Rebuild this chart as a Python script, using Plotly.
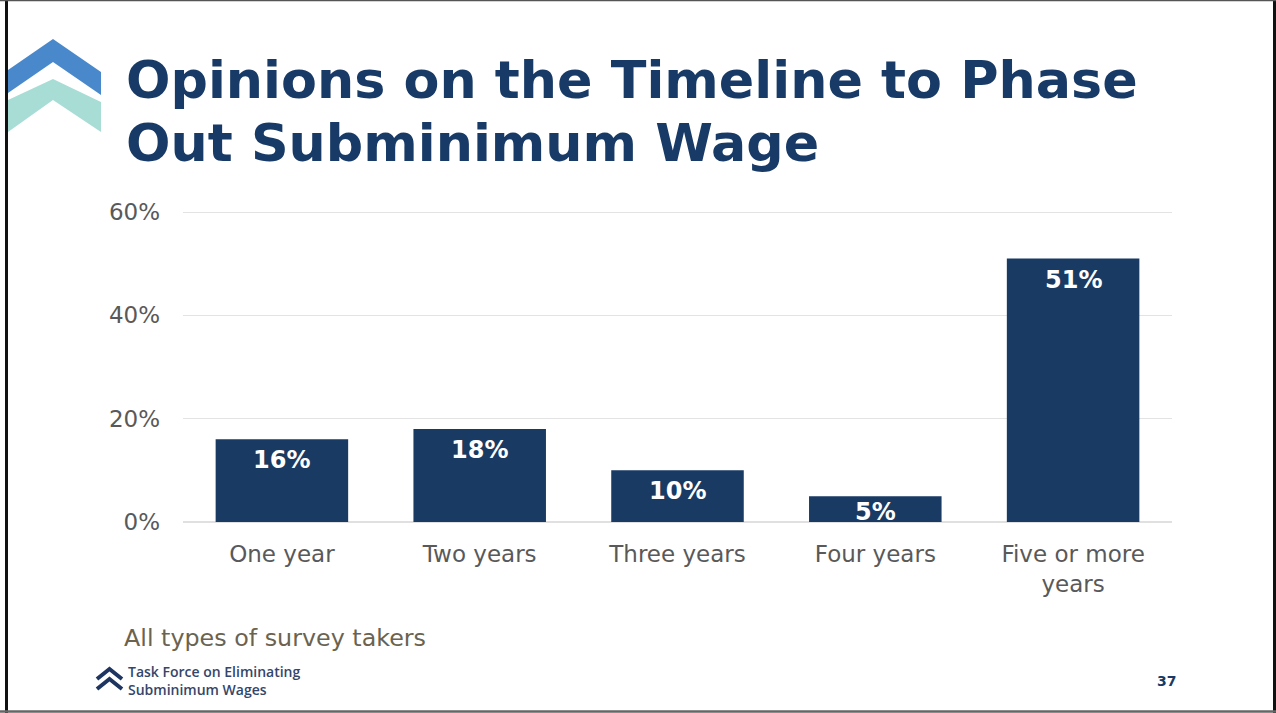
import plotly.graph_objects as go

# Survey results: preferred timeline for phasing out subminimum wage
categories = ["One year", "Two years", "Three years", "Four years", "Five or more<br>years"]
shares = [16, 18, 10, 5, 51]
y_ticks = [0, 20, 40, 60]
y_tick_labels = ["0%", "20%", "40%", "60%"]
title_lines = ["Opinions on the Timeline to Phase", "Out Subminimum Wage"]

W, H = 1276, 713
L, R, T, B = 183, 1172, 200, 522  # plot area in pixels
Y_MAX = 60 * (B - T) / (B - 212)   # 60% grid line sits at y=212

NAVY = "#183a66"
BAR = "#183a63"


def px(x):
    return (x - L) / (R - L)


def py(y):
    return (B - y) / (B - T)


def path(points, close=True):
    s = "M " + " L ".join(f"{px(x):.5f} {py(y):.5f}" for x, y in points)
    return s + (" Z" if close else "")


fig = go.Figure(
    go.Bar(
        x=categories,
        y=shares,
        marker=dict(color=BAR, line=dict(width=0)),
        hoverinfo="skip",
    )
)

annotations = []
# value labels inside the bars, near the top
px_per_unit = (B - T) / Y_MAX
for c, v in zip(categories, shares):
    bar_h = v * px_per_unit
    annotations.append(dict(
        x=c, y=v, xref="x", yref="y", text=f"{v}%", showarrow=False,
        yshift=-min(21, bar_h - 10),
        font=dict(family="DejaVu Sans", size=24, color="white", weight="bold"),
        xanchor="center", yanchor="middle",
    ))

# slide title, one annotation per line for tighter leading
for line, ypix in zip(title_lines, [79, 143]):
    annotations.append(dict(
        x=px(124), y=py(ypix), xref="paper", yref="paper", xanchor="left", yanchor="middle",
        text=line, showarrow=False,
        font=dict(family="DejaVu Sans", size=52.3, color=NAVY, weight="bold"),
    ))

# footnote
annotations.append(dict(
    x=px(122), y=py(638), xref="paper", yref="paper", xanchor="left", yanchor="middle",
    text="All types of survey takers", showarrow=False,
    font=dict(family="DejaVu Sans", size=23.8, color="#6b6350"),
))

# footer branding
annotations.append(dict(
    x=px(126), y=py(680), xref="paper", yref="paper", xanchor="left", yanchor="middle",
    text="Task Force on Eliminating<br>Subminimum Wages", align="left", showarrow=False,
    font=dict(family="Open Sans", size=14, color="#34466a", weight=600),
))

# page number
annotations.append(dict(
    x=px(1166), y=py(681), xref="paper", yref="paper", xanchor="center", yanchor="middle",
    text="37", showarrow=False,
    font=dict(family="DejaVu Sans", size=14, color=NAVY, weight="bold"),
))

shapes = [
    # logo chevrons, top left
    dict(type="path", xref="paper", yref="paper", line=dict(width=0), fillcolor="#4a88cc",
         path=path([(8, 70), (53, 39), (101, 72), (101, 95), (53, 62), (8, 93)])),
    dict(type="path", xref="paper", yref="paper", line=dict(width=0), fillcolor="#a8ddd6",
         path=path([(8, 100), (53, 79), (101, 102), (101, 132), (53, 100), (8, 132)])),
    # footer chevrons
    dict(type="path", xref="paper", yref="paper", line=dict(width=4, color="#1d3560"),
         path=path([(97, 679), (109.5, 669), (122, 679)], close=False)),
    dict(type="path", xref="paper", yref="paper", line=dict(width=4, color="#1d3560"),
         path=path([(97, 689), (109.5, 679), (122, 689)], close=False)),
    # page frame
    dict(type="line", xref="paper", yref="paper", x0=px(6.5), x1=px(6.5), y0=py(0), y1=py(713),
         line=dict(width=3, color="#111111")),
    dict(type="line", xref="paper", yref="paper", x0=px(1274.5), x1=px(1274.5), y0=py(0), y1=py(713),
         line=dict(width=3, color="#111111")),
    dict(type="line", xref="paper", yref="paper", x0=px(0), x1=px(1276), y0=py(0.5), y1=py(0.5),
         line=dict(width=1.5, color="#555555")),
    dict(type="line", xref="paper", yref="paper", x0=px(0), x1=px(1276), y0=py(711.5), y1=py(711.5),
         line=dict(width=2.5, color="#666666")),
]

fig.update_layout(
    width=W, height=H,
    margin=dict(l=L, r=W - R, t=T, b=H - B, pad=0),
    paper_bgcolor="white", plot_bgcolor="white",
    showlegend=False, bargap=0.33,
    annotations=annotations, shapes=shapes,
    xaxis=dict(
        showgrid=False, showline=False, zeroline=False, ticks="",
        tickfont=dict(family="DejaVu Sans", size=23, color="#595959"),
        ticklabelstandoff=16,
    ),
    yaxis=dict(
        range=[0, Y_MAX], tickvals=y_ticks, ticktext=y_tick_labels,
        showgrid=True, gridcolor="#e3e3e3", gridwidth=1,
        zeroline=True, zerolinecolor="#e0e0e0", zerolinewidth=1.5,
        showline=False, ticks="",
        tickfont=dict(family="DejaVu Sans", size=23, color="#595959"),
        ticklabelstandoff=22,
    ),
)

fig.write_html("out.html")
